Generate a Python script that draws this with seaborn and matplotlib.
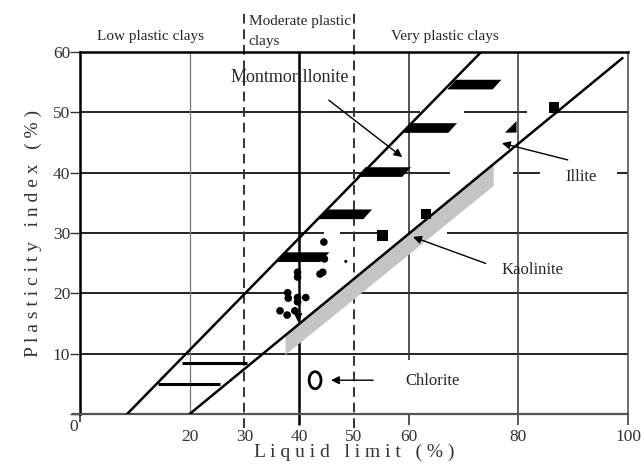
import numpy as np
import pandas as pd
import matplotlib
matplotlib.use("Agg")
import matplotlib.pyplot as plt
from matplotlib.patches import Polygon
import seaborn as sns

# Boundary lines of the clay-mineral zones (liquid limit, plasticity index)
upper_ll = [8.6, 73.2]
upper_pi = [0.0, 60.0]
lower_ll = [20.0, 99.0]
lower_pi = [0.0, 59.0]

# Montmorillonite bars along the upper boundary (bottom-left corner)
mont_ll = [35.6, 43.4, 50.5, 58.9, 67.0]
mont_pi = [25.2, 32.3, 39.3, 46.6, 53.8]

# Kaolinite band under the lower boundary
kaol_ll = [37.5, 37.5, 75.5, 75.5]
kaol_pi = [9.8, 13.0, 41.5, 37.8]

# Short horizontal bars in the low-plastic zone
bar_pi = [5.0, 8.5]
bar_ll_start = [14.2, 18.6]
bar_ll_end = [25.5, 30.5]

# Measured samples
dots_ll = [44.5, 44.6, 44.3, 43.8, 39.7, 39.7, 37.9, 38.0, 39.7, 41.2, 39.7, 36.5, 37.8, 39.2]
dots_pi = [28.5, 25.7, 23.5, 23.2, 23.5, 22.7, 20.1, 19.2, 19.3, 19.3, 18.6, 17.1, 16.4, 17.1]
square_ll = [55.2, 63.1, 86.5]
square_pi = [29.6, 33.2, 50.8]
illite_ll = [78.6]
illite_pi = [47.6]
chlorite_ll = [42.9]
chlorite_pi = [5.6]

x_ticks = [0, 20, 30, 40, 50, 60, 80, 100]
x_labels = ["", "20", "30", "40", "50", "60", "80", "100"]
y_ticks = [0, 10, 20, 30, 40, 50, 60]
y_labels = ["", "10", "20", "30", "40", "50", "60"]

sns.set_theme(style="white")
plt.rcParams["font.family"] = ["Liberation Serif", "DejaVu Serif"]

fig = plt.figure(figsize=(6.43, 4.68), dpi=100)
ax = fig.add_axes([80 / 643, 1 - 414 / 468, 548 / 643, 362 / 468])
ax.set_xlim(0, 100)
ax.set_ylim(0, 60)

# Horizontal grid segments (interrupted around labels and markers)
h_segments = {
    10: [(0, 100)],
    20: [(0, 37.5), (50.5, 100)],
    30: [(0, 44.5), (47.5, 55), (67, 100)],
    40: [(0, 67.5), (79, 84), (98, 100)],
    50: [(0, 62), (70, 81.5), (85.5, 100)],
}
for y, segs in h_segments.items():
    for a, b in segs:
        ax.hlines(y, a, b, color="#222222", lw=1.4, zorder=1)

ax.vlines(20, 0, 60, color="#777777", lw=0.9, zorder=1)
ax.vlines(40, -1.8, 60, color="black", lw=1.8, zorder=1, clip_on=False)
ax.vlines(60, 9, 60, color="#333333", lw=1.2, zorder=1)
ax.vlines(60, -1.8, 0, color="#333333", lw=1.2, zorder=1, clip_on=False)
ax.vlines(80, -1.8, 60, color="#444444", lw=1.2, zorder=1, clip_on=False)
ax.vlines(100, -1.8, 0, color="#444444", lw=1.2, zorder=1, clip_on=False)
ax.vlines(0, -1.3, 0, color="#333333", lw=1.2, zorder=1, clip_on=False)
ax.hlines(0, -1.5, 0, color="#555555", lw=1.6, zorder=1, clip_on=False)
for xd in (30, 50):
    ax.plot([xd, xd], [-2.3, 67.0], color="#333333", lw=1.4, ls=(0, (5, 3)),
            clip_on=False, zorder=1)

# Kaolinite band
ax.fill(kaol_ll, kaol_pi, color="#c4c4c4", lw=0, zorder=2)

# Zone boundaries
bounds = pd.DataFrame({
    "ll": upper_ll + lower_ll,
    "pi": upper_pi + lower_pi,
    "line": ["upper", "upper", "lower", "lower"],
})
sns.lineplot(data=bounds, x="ll", y="pi", units="line", estimator=None,
             color="black", lw=1.8, ax=ax, zorder=3)

for y, a, b in zip(bar_pi, bar_ll_start, bar_ll_end):
    ax.hlines(y, a, b, color="black", lw=2.2, zorder=3)

# Montmorillonite bars
w, h, s = 8.3, 1.6, 1.6
for l0, p0 in zip(mont_ll, mont_pi):
    ax.add_patch(Polygon([(l0, p0), (l0 + w, p0), (l0 + w + s, p0 + h), (l0 + s, p0 + h)],
                         closed=True, color="black", lw=0, zorder=4))

sns.scatterplot(x=dots_ll, y=dots_pi, color="black", s=30, edgecolor="none", ax=ax, zorder=5)
sns.scatterplot(x=[48.5], y=[25.3], color="black", s=5, edgecolor="none", ax=ax, zorder=5)
sns.scatterplot(x=[39.8], y=[16.0], color="black", marker="v", s=40, edgecolor="none", ax=ax, zorder=5)
sns.scatterplot(x=square_ll, y=square_pi, color="black", marker="s", s=55, edgecolor="none", ax=ax, zorder=5)
sns.scatterplot(x=illite_ll, y=illite_pi, color="black",
                marker=[(-1, -1), (1, -1), (1, 1), (-1, -1)],
                s=70, edgecolor="none", ax=ax, zorder=5)
t = np.linspace(0, 2 * np.pi, 60)
ellipse = list(zip(0.7 * np.cos(t), np.sin(t)))
ax.scatter(chlorite_ll, chlorite_pi, marker=ellipse, s=150, facecolors="none",
           edgecolors="black", linewidths=2.0, zorder=5)

# Labels and arrows
arrow = dict(arrowstyle="-|>", color="black", lw=1.0, mutation_scale=12)
ax.text(38.3, 55.7, "Montmorillonite", fontsize=13, ha="center", va="center", zorder=6)
ax.annotate("", xy=(59.2, 42.3), xytext=(45.0, 52.3), arrowprops=arrow, zorder=6)
ax.text(91.5, 39.2, "Illite", fontsize=12, ha="center", va="center", zorder=6)
ax.annotate("", xy=(76.5, 45.0), xytext=(89.5, 42.0), arrowprops=arrow, zorder=6)
ax.text(82.5, 23.8, "Kaolinite", fontsize=12, ha="center", va="center", zorder=6)
ax.annotate("", xy=(60.3, 29.5), xytext=(74.5, 24.8), arrowprops=arrow, zorder=6)
ax.text(59.3, 5.5, "Chlorite", fontsize=12, ha="left", va="center", zorder=6)
ax.annotate("", xy=(45.3, 5.6), xytext=(54.0, 5.6), arrowprops=arrow, zorder=6)

ax.text(12.8, 62.5, "Low plastic clays", fontsize=11, ha="center", va="center", clip_on=False)
ax.text(30.8, 65.0, "Moderate plastic", fontsize=11, ha="left", va="center", clip_on=False)
ax.text(30.8, 61.8, "clays", fontsize=11, ha="left", va="center", clip_on=False)
ax.text(66.5, 62.6, "Very plastic clays", fontsize=11, ha="center", va="center", clip_on=False)
ax.text(-1.2, -2.2, "0", fontsize=12.5, color="#333333", ha="center", va="center", clip_on=False)

# Axes styling
for side in ("left", "top"):
    ax.spines[side].set_color("black")
    ax.spines[side].set_linewidth(1.8)
ax.spines["bottom"].set_color("#555555")
ax.spines["bottom"].set_linewidth(1.6)
ax.spines["right"].set_color("#555555")
ax.spines["right"].set_linewidth(1.2)

ax.set_xticks(x_ticks)
ax.set_xticklabels(x_labels)
ax.set_yticks(y_ticks)
ax.set_yticklabels(y_labels)
ax.tick_params(axis="both", direction="out", width=1.0, color="#333333",
               labelsize=12.5, labelcolor="#333333")
ax.tick_params(axis="x", bottom=False, length=0, pad=11)
ax.tick_params(axis="y", left=True, length=7, pad=0)

ax.set_xlabel("L i q u i d   l i m i t   ( % )", fontsize=14, color="#333333", labelpad=-1)
ax.set_ylabel("P l a s t i c i t y   i n d e x   ( % )", fontsize=14, color="#333333", labelpad=8)

fig.savefig("out.png", dpi=100)
